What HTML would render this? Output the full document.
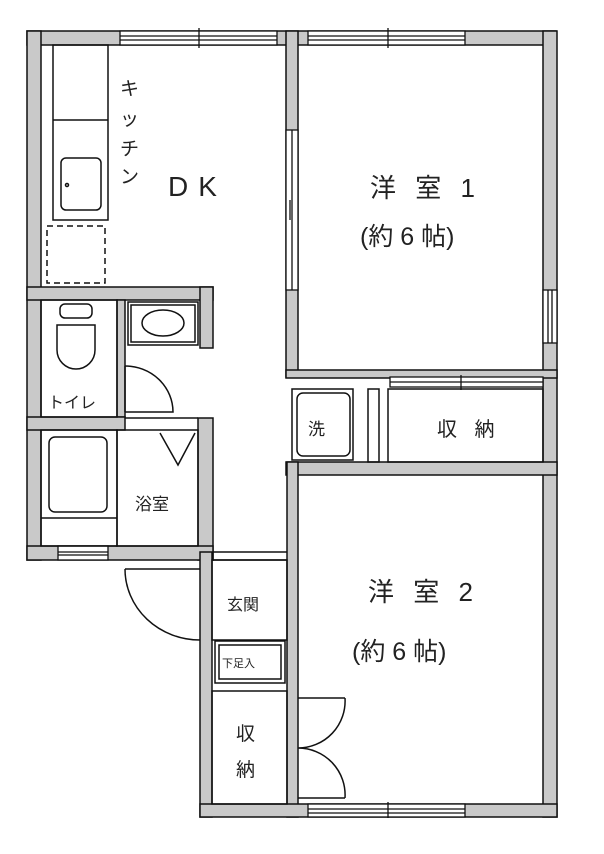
<!DOCTYPE html>
<html><head><meta charset="utf-8"><style>
html,body{margin:0;padding:0;background:#fff;}
svg{display:block;}
text{font-family:"Liberation Sans","Noto Sans CJK JP",sans-serif;fill:#222;}
</style></head><body>
<svg width="604" height="854" viewBox="0 0 604 854" xmlns="http://www.w3.org/2000/svg">
<g fill="#c9c9c9" stroke="#111" stroke-width="1.5">
<rect x="27" y="31" width="529" height="14"/>
<rect x="27" y="31" width="14" height="529"/>
<rect x="543" y="31" width="14" height="786"/>
<rect x="286" y="31" width="12" height="346"/>
<rect x="286" y="370" width="271" height="8"/>
<rect x="286" y="462" width="271" height="13"/>
<rect x="287" y="462" width="11" height="355"/>
<rect x="27" y="287" width="186" height="13"/>
<rect x="200" y="287" width="13" height="61"/>
<rect x="117" y="300" width="8" height="117"/>
<rect x="27" y="417" width="98" height="13"/>
<rect x="198" y="418" width="15" height="142"/>
<rect x="27" y="546" width="186" height="14"/>
<rect x="200" y="552" width="12" height="265"/>
<rect x="200" y="804" width="357" height="13"/>
</g>
<g fill="#fff" stroke="#111" stroke-width="1.3">
<rect x="120" y="31" width="157" height="14"/>
<line x1="120" y1="36" x2="277" y2="36"/><line x1="120" y1="40" x2="277" y2="40"/>
<line x1="199" y1="28" x2="199" y2="48"/>
<rect x="308" y="31" width="157" height="14"/>
<line x1="308" y1="36" x2="465" y2="36"/><line x1="308" y1="40" x2="465" y2="40"/>
<line x1="388" y1="28" x2="388" y2="48"/>
<rect x="543" y="290" width="14" height="53"/>
<line x1="548" y1="290" x2="548" y2="343"/><line x1="552" y1="290" x2="552" y2="343"/>
<rect x="286" y="130" width="12" height="160"/>
<line x1="292" y1="130" x2="292" y2="290"/><line x1="290" y1="200" x2="290" y2="220"/>
<rect x="58" y="546" width="50" height="14"/>
<line x1="58" y1="552" x2="108" y2="552"/><line x1="58" y1="555" x2="108" y2="555"/>
<rect x="308" y="804" width="157" height="13"/>
<line x1="308" y1="809" x2="465" y2="809"/><line x1="308" y1="813" x2="465" y2="813"/>
<line x1="388" y1="802" x2="388" y2="818"/>
<rect x="390" y="377" width="153" height="10"/>
<line x1="390" y1="382" x2="543" y2="382"/><line x1="461" y1="375" x2="461" y2="390"/>
</g>
<g fill="none" stroke="#111" stroke-width="1.5">
<rect x="53" y="45" width="55" height="175"/>
<line x1="53" y1="120" x2="108" y2="120"/>
<rect x="61" y="158" width="40" height="52" rx="5"/>
<circle cx="67" cy="185" r="1.5"/>
<rect x="47" y="226" width="58" height="57" stroke-dasharray="6,4"/>
<rect x="41" y="300" width="76" height="117"/>
<rect x="60" y="304" width="32" height="14" rx="5"/>
<path d="M57 325 L95 325 L95 350 A19 19 0 0 1 57 350 Z"/>
<rect x="128" y="302" width="70" height="43"/>
<rect x="131" y="305" width="64" height="37"/>
<ellipse cx="163" cy="323" rx="21" ry="13"/>
<line x1="125" y1="366" x2="125" y2="412"/>
<path d="M125 366 A48 46 0 0 1 173 412 L125 412"/>
<rect x="41" y="430" width="76" height="116"/>
<rect x="49" y="437" width="58" height="75" rx="6"/>
<line x1="41" y1="518" x2="117" y2="518"/>
<rect x="117" y="430" width="81" height="116"/>
<line x1="125" y1="418" x2="198" y2="418"/>
<path d="M160 433 L178 465 L195 433"/>
<line x1="213" y1="552" x2="287" y2="552"/>
<line x1="213" y1="560" x2="287" y2="560"/>
<line x1="125" y1="569" x2="200" y2="569"/>
<path d="M125 569 A75 71 0 0 0 200 640"/>
<rect x="212" y="560" width="75" height="80"/>
<rect x="215" y="641" width="70" height="42"/>
<rect x="219" y="645" width="62" height="34"/>
<rect x="212" y="691" width="75" height="113"/>
<line x1="298" y1="698" x2="345" y2="698"/>
<path d="M345 698 A47 47 0 0 1 298 748 A47 47 0 0 1 345 798"/>
<line x1="298" y1="798" x2="345" y2="798"/>
<rect x="292" y="389" width="61" height="71"/>
<rect x="297" y="393" width="53" height="63" rx="6"/>
<rect x="368" y="389" width="11" height="73"/>
<rect x="388" y="389" width="155" height="73"/>
</g>
<g font-size="19">
<text x="120" y="95">キ</text>
<text x="120" y="125">ッ</text>
<text x="120" y="155">チ</text>
<text x="120" y="183">ン</text>
</g>
<text x="168" y="196" font-size="28" letter-spacing="10">DK</text>
<text x="370" y="197" font-size="26" letter-spacing="6">洋 室 1</text>
<text x="360" y="245" font-size="25">(約 6 帖)</text>
<text x="48" y="408" font-size="16">トイレ</text>
<text x="135" y="510" font-size="17">浴室</text>
<text x="308" y="435" font-size="17">洗</text>
<text x="437" y="436" font-size="20" letter-spacing="6">収 納</text>
<text x="227" y="610" font-size="16">玄関</text>
<text x="222" y="667" font-size="11">下足入</text>
<text x="236" y="740" font-size="19">収</text>
<text x="236" y="776" font-size="19">納</text>
<text x="368" y="601" font-size="26" letter-spacing="6">洋 室 2</text>
<text x="352" y="660" font-size="25">(約 6 帖)</text>
</svg>
</body></html>
